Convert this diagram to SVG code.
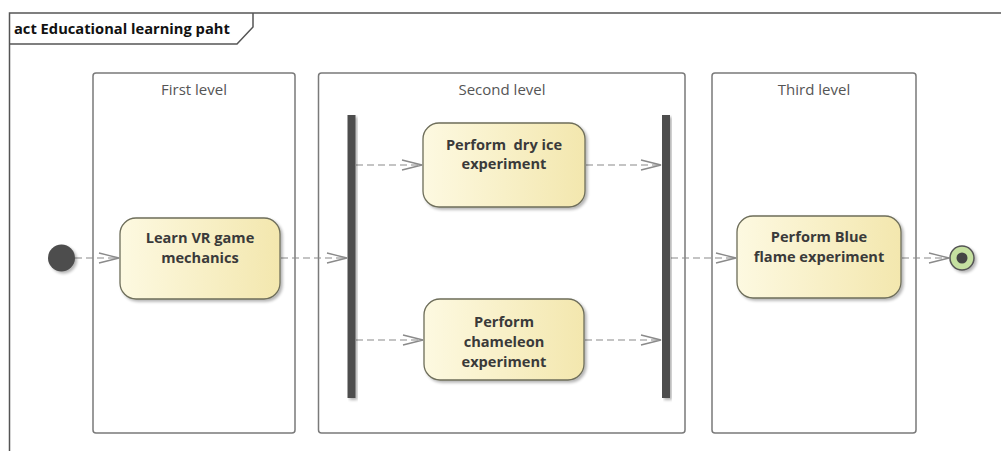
<svg xmlns="http://www.w3.org/2000/svg" width="1001" height="451" viewBox="0 0 1001 451">
  <defs>
    <linearGradient id="actFill" x1="0" y1="0" x2="1" y2="0">
      <stop offset="0" stop-color="#fdf9e1"/>
      <stop offset="1" stop-color="#f3e7ae"/>
    </linearGradient>
    <filter id="shadow" x="-10%" y="-10%" width="130%" height="130%">
      <feGaussianBlur in="SourceAlpha" stdDeviation="1.5"/>
      <feOffset dx="2" dy="2" result="b"/>
      <feComponentTransfer><feFuncA type="linear" slope="0.3"/></feComponentTransfer>
      <feMerge><feMergeNode/><feMergeNode in="SourceGraphic"/></feMerge>
    </filter>
    <marker id="open" viewBox="0 0 22 12" refX="21" refY="6" markerWidth="22" markerHeight="12" markerUnits="userSpaceOnUse" orient="auto">
      <path d="M1,1 L21,6 L1,11" fill="none" stroke="#8a8a8a" stroke-width="1.3"/>
    </marker>
  </defs>
  <style>
    .frame { fill: none; stroke: #555; stroke-width: 1.5; }
    .part { fill: #fff; stroke: #7a7a7a; stroke-width: 1.5; }
    .ptitle { font-family: "Open Sans", "Noto Sans", sans-serif; font-size: 15px; fill: #555; text-anchor: middle; }
    .act { fill: url(#actFill); stroke: #6e6e5a; stroke-width: 1.3; filter: url(#shadow); }
    .label { font-family: "Open Sans", "Noto Sans", sans-serif; font-size: 14.6px; font-weight: bold; fill: #3a3a3a; text-anchor: middle; }
    .bar { fill: #4d4d4d; filter: url(#shadow); }
    .flow { fill: none; stroke: #8a8a8a; stroke-width: 1.2; stroke-dasharray: 7 4; marker-end: url(#open); }
  </style>
  <rect width="1001" height="451" fill="#fff"/>

  <!-- diagram frame with name tab -->
  <g id="frame">
    <path class="frame" d="M1001,13 L9.5,13 L9.5,451"/>
    <path class="frame" d="M9.5,44 L237,44 L253,27 L253,13"/>
    <text x="14" y="34" font-family="Open Sans, Noto Sans, sans-serif" font-size="14.7" font-weight="bold" fill="#111">act Educational learning paht</text>
  </g>

  <!-- activity partitions -->
  <g id="partition-first">
    <rect class="part" x="93" y="73" width="202" height="360" rx="3"/>
    <text class="ptitle" x="194" y="95">First level</text>
  </g>
  <g id="partition-second">
    <rect class="part" x="318.5" y="73" width="366.5" height="360" rx="3"/>
    <text class="ptitle" x="502" y="95">Second level</text>
  </g>
  <g id="partition-third">
    <rect class="part" x="712" y="73" width="204" height="360" rx="3"/>
    <text class="ptitle" x="814" y="95">Third level</text>
  </g>

  <!-- control flows -->
  <g id="connectors">
    <line class="flow" x1="75" y1="258" x2="119" y2="258"/>
    <line class="flow" x1="281" y1="258" x2="347" y2="258"/>
    <line class="flow" x1="356" y1="165" x2="422" y2="165"/>
    <line class="flow" x1="356" y1="340" x2="423" y2="340"/>
    <line class="flow" x1="586" y1="165" x2="661" y2="165"/>
    <line class="flow" x1="585" y1="340" x2="661" y2="340"/>
    <line class="flow" x1="671" y1="258" x2="736" y2="258"/>
    <line class="flow" x1="902" y1="258" x2="949" y2="258"/>
  </g>

  <!-- initial node -->
  <g id="initial">
    <circle cx="61.5" cy="258" r="13.5" fill="#4d4d4d" filter="url(#shadow)"/>
  </g>

  <g id="learn-vr">
    <rect class="act" x="120" y="218" width="160" height="81" rx="16"/>
    <text class="label" x="200" y="243">Learn VR game</text>
    <text class="label" x="200" y="263">mechanics</text>
  </g>

  <!-- fork bar -->
  <g id="fork">
    <rect class="bar" x="347.5" y="115" width="8" height="283"/>
  </g>

  <g id="dry-ice">
    <rect class="act" x="423" y="123" width="162" height="84" rx="16"/>
    <text class="label" x="504" y="150" xml:space="preserve">Perform  dry ice</text>
    <text class="label" x="504" y="169">experiment</text>
  </g>

  <g id="chameleon">
    <rect class="act" x="424" y="299" width="160" height="81" rx="16"/>
    <text class="label" x="504" y="327">Perform</text>
    <text class="label" x="504" y="347">chameleon</text>
    <text class="label" x="504" y="367">experiment</text>
  </g>

  <!-- join bar -->
  <g id="join">
    <rect class="bar" x="662" y="115" width="8" height="283"/>
  </g>

  <g id="blue-flame">
    <rect class="act" x="737" y="216" width="164" height="82" rx="16"/>
    <text class="label" x="819" y="242">Perform Blue</text>
    <text class="label" x="819" y="262">flame experiment</text>
  </g>

  <!-- final node -->
  <g id="final">
    <circle cx="962" cy="258" r="12" fill="#c5e0a0" stroke="#555" stroke-width="1.5" filter="url(#shadow)"/>
    <circle cx="962" cy="258" r="5.5" fill="#444"/>
  </g>
</svg>
